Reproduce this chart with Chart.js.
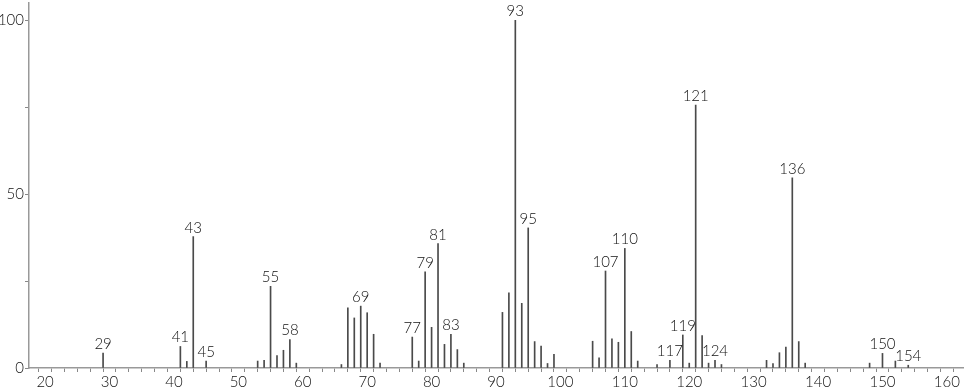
<!DOCTYPE html>
<html>
<head>
<meta charset="utf-8">
<script src="https://cdn.jsdelivr.net/npm/chart.js@4.4.1/dist/chart.umd.min.js"></script>
<style>
  html, body { margin: 0; padding: 0; background: #fff; }
  #wrap { width: 966px; height: 389px; position: relative; }
</style>
</head>
<body>
<div id="wrap"><canvas id="c"></canvas></div>
<script>
// m/z values
const mz = [29, 41, 42, 43, 45, 53, 54, 55, 56, 57, 58, 59,
  66, 67, 68, 69, 70, 71, 72, 77, 78, 79, 80, 81, 82, 83, 84, 85,
  91, 92, 93, 94, 95, 96, 97, 98, 99,
  105, 106, 107, 108, 109, 110, 111, 112, 115, 117, 119, 120, 121, 122, 123, 124, 125,
  132, 133, 134, 135, 136, 137, 138, 148, 150, 152, 154];
// relative intensity (%)
const intensity = [4.3, 6.2, 1.9, 37.8, 2.0, 2.0, 2.2, 23.5, 3.6, 5.1, 8.2, 1.4,
  1.0, 17.3, 14.4, 17.8, 15.9, 9.7, 1.4, 8.9, 2.0, 27.7, 11.7, 35.8, 6.8, 9.7, 5.3, 1.4,
  16.0, 21.6, 100, 18.6, 40.3, 7.6, 6.3, 1.3, 3.9,
  7.7, 2.9, 27.9, 8.4, 7.4, 34.4, 10.5, 2.0, 1.0, 2.2, 9.5, 1.4, 75.6, 9.3, 1.4, 2.2, 1.0,
  2.2, 1.3, 4.4, 6.0, 54.7, 7.6, 1.4, 1.4, 4.2, 2.0, 0.8];
// peaks that carry a text label
const labeledPeaks = [29, 41, 43, 45, 55, 58, 69, 77, 79, 81, 83, 93, 95,
  107, 110, 117, 119, 121, 124, 136, 150, 154];
// axis tick labels
const xTickLabels = [20, 30, 40, 50, 60, 70, 80, 90, 100, 110, 120, 130, 140, 150, 160];
const yTickLabels = [0, 50, 100];

const FONT = 'Lato, "DejaVu Sans", sans-serif';

const peakLabelPlugin = {
  id: 'peakLabels',
  afterDatasetsDraw(chart) {
    const ctx = chart.ctx;
    const meta = chart.getDatasetMeta(0);
    ctx.save();
    ctx.font = '300 15px ' + FONT;
    ctx.fillStyle = '#111';
    ctx.textAlign = 'center';
    ctx.textBaseline = 'alphabetic';
    meta.data.forEach((el, i) => {
      if (labeledPeaks.includes(mz[i])) {
        ctx.fillText(String(mz[i]), el.x, el.y - 4);
      }
    });
    ctx.restore();
  }
};

new Chart(document.getElementById('c'), {
  type: 'bar',
  data: {
    datasets: [{
      data: mz.map((m, i) => ({ x: m, y: intensity[i] })),
      backgroundColor: '#4a4a4a',
      borderWidth: 0,
      barThickness: 1
    }]
  },
  options: {
    responsive: true,
    maintainAspectRatio: false,
    animation: false,
    events: [],
    layout: { padding: { top: 3, right: 3, left: 0, bottom: 0 } },
    plugins: { legend: { display: false }, tooltip: { enabled: false } },
    scales: {
      x: {
        type: 'linear',
        min: 17.5,
        max: 162.5,
        offset: false,
        afterFit: (s) => { s.height = 21; s.paddingLeft = 0; s.paddingRight = 0; },
        grid: { drawOnChartArea: false, drawTicks: true, tickLength: 4, color: '#888', tickWidth: 1 },
        border: { display: true, color: '#999', width: 1.5 },
        afterBuildTicks: (s) => {
          const t = [];
          for (let v = 18; v <= 162; v += 2) t.push({ value: v });
          s.ticks = t;
        },
        ticks: {
          autoSkip: false,
          maxRotation: 0,
          padding: 1,
          color: '#111',
          font: { family: FONT, size: 15, weight: 300 },
          callback: (v) => xTickLabels.includes(v) ? String(v) : ''
        }
      },
      y: {
        min: 0,
        max: 105,
        afterFit: (s) => { s.width = 29; s.paddingTop = 0; s.paddingBottom = 0; },
        afterBuildTicks: (s) => {
          s.ticks = [0, 25, 50, 75, 100].map(v => ({ value: v }));
        },
        grid: { drawOnChartArea: false, drawTicks: true, tickLength: 4, color: '#888' },
        border: { display: true, color: '#999', width: 1.5 },
        ticks: {
          padding: 1,
          color: '#111',
          font: { family: FONT, size: 15, weight: 300 },
          callback: (v) => yTickLabels.includes(v) ? String(v) : ''
        }
      }
    }
  },
  plugins: [peakLabelPlugin]
});
</script>
</body>
</html>
